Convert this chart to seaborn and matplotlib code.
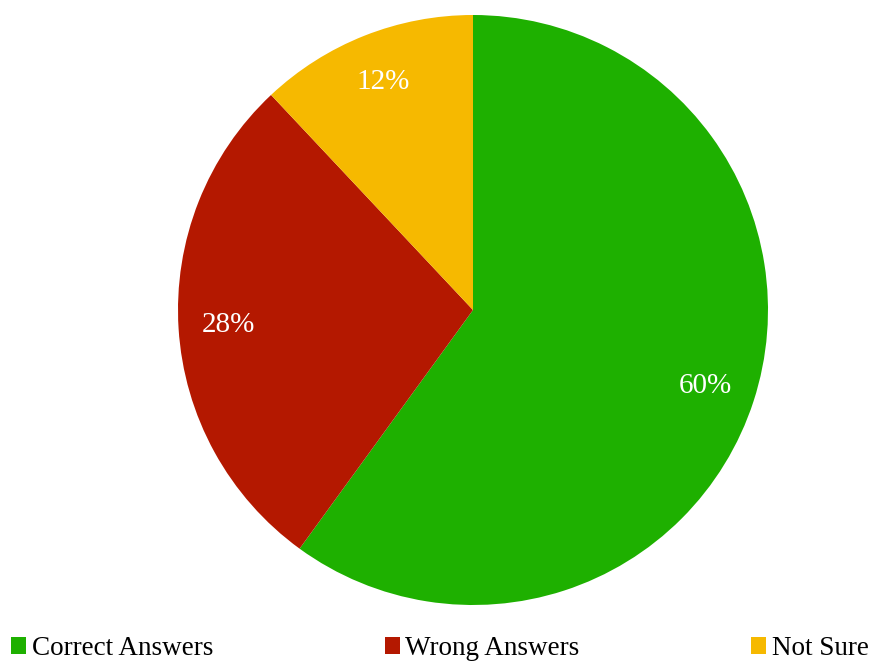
import matplotlib
matplotlib.use("Agg")
import matplotlib.pyplot as plt
import seaborn as sns

# === DATA ===
labels = ["Correct Answers", "Wrong Answers", "Not Sure"]
shares = [60, 28, 12]
colors = ["#1eb000", "#b41800", "#f6b900"]

# === STYLE ===
sns.set_theme(style="white")
plt.rcParams["font.family"] = ["Liberation Serif", "DejaVu Serif"]

fig = plt.figure(figsize=(8.73, 6.62), dpi=100)

# pie centred at (473, 310) px, radius ~295 px
cx, cy, r = 473, 310, 295
W, H = 873, 662
ax = fig.add_axes([(cx - r) / W, 1 - (cy + r) / H, 2 * r / W, 2 * r / H])

wedges, texts, autotexts = ax.pie(
    shares,
    colors=colors,
    startangle=90,
    counterclock=False,
    autopct="%d%%",
    pctdistance=0.83,
    wedgeprops=dict(linewidth=0),
    textprops=dict(color="white", fontsize=21),
)
ax.set_xlim(-1, 1)
ax.set_ylim(-1, 1)
ax.set_aspect("equal")
ax.axis("off")

# === LEGEND ===
# sits at the very bottom edge, as in the reference
fig.legend(
    wedges, labels,
    loc="upper left",
    bbox_to_anchor=(0.013, 0.039, 0.982, 0),
    mode="expand",
    ncol=3,
    frameon=False,
    fontsize=19.5,
    labelcolor="black",
    handlelength=0.55,
    handleheight=0.55,
    handletextpad=0.2,
    borderpad=0,
    borderaxespad=0,
)

fig.savefig("out.png", dpi=100)
